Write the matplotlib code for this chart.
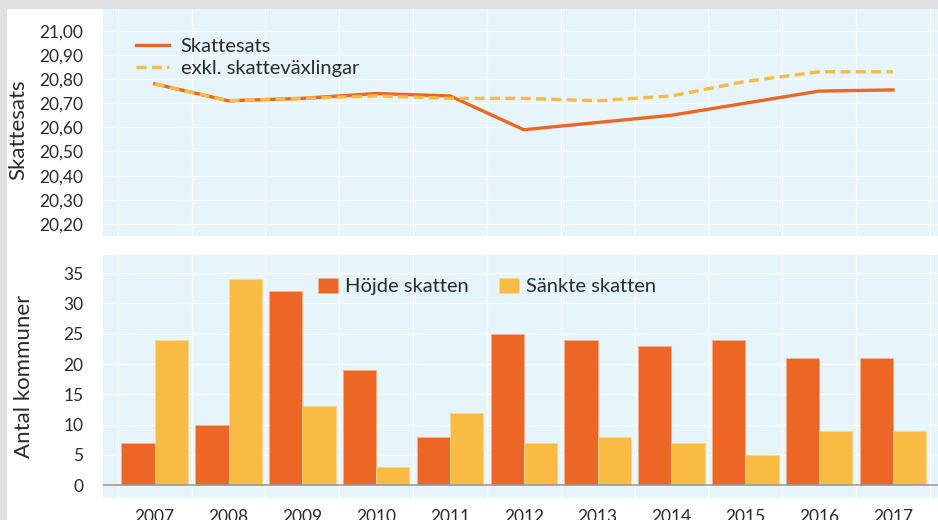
import matplotlib
matplotlib.use('Agg')
import matplotlib.pyplot as plt
from matplotlib.patches import Rectangle
from matplotlib.ticker import FixedLocator, FuncFormatter
import numpy as np

# ===========================
# data
# ===========================
YEARS = ["2007", "2008", "2009", "2010", "2011", "2012",
         "2013", "2014", "2015", "2016", "2017"]
SKATTESATS = [20.78, 20.71, 20.72, 20.74, 20.73, 20.59,
              20.62, 20.65, 20.70, 20.75, 20.755]
EXKL_VAXLING = [20.78, 20.71, 20.72, 20.73, 20.72, 20.72,
                20.71, 20.73, 20.79, 20.83, 20.83]
HOJDE = [7, 10, 32, 19, 8, 25, 24, 23, 24, 21, 21]
SANKTE = [24, 34, 13, 3, 12, 7, 8, 7, 5, 9, 9]

ORANGE = "#ec6726"
YELLOW = "#f9bb43"
BG = "#e6f4fc"
TXT = "#2b2b2b"

plt.rcParams['font.family'] = ['Lato', 'DejaVu Sans']

fig = plt.figure(figsize=(9.38, 5.2), dpi=100)
fig.patch.set_facecolor("#e1e1e1")
fig.patches.append(Rectangle((7 / 938, 0), 1, 1 - 9 / 520, transform=fig.transFigure,
                             facecolor="white", edgecolor="none", zorder=-10))

x = np.arange(len(YEARS))
XLIM = (-0.70, 10.61)


def style_axes(ax):
    ax.set_facecolor(BG)
    for s in ax.spines.values():
        s.set_visible(False)
    ax.set_xlim(*XLIM)
    ax.xaxis.set_minor_locator(FixedLocator(np.arange(-0.5, len(YEARS), 1)))
    ax.grid(True, which='minor', axis='x', color='white', linewidth=1)
    ax.grid(True, which='major', axis='y', color='white', linewidth=1)
    ax.set_axisbelow(True)
    ax.tick_params(axis='both', which='both', length=0, labelsize=12.5,
                   labelcolor=TXT)
    ax.tick_params(axis='y', pad=14)


# ===========================
# top: skattesats
# ===========================
ax1 = fig.add_axes([103 / 938, 1 - 236 / 520, 1 - 103 / 938, (236 - 9) / 520])
style_axes(ax1)
ax1.plot(x, SKATTESATS, color=ORANGE, linewidth=2.4, label="Skattesats")
ax1.plot(x, EXKL_VAXLING, color=YELLOW, linewidth=2.4, linestyle=(0, (3, 1.6)),
         label="exkl. skatteväxlingar")
ax1.set_ylim(20.15, 21.09)
ax1.set_yticks(np.arange(20.2, 21.001, 0.1))
ax1.yaxis.set_major_formatter(FuncFormatter(lambda v, p: f"{v:.2f}".replace(".", ",")))
ax1.set_xticks(x)
ax1.set_xticklabels([])
ax1.set_ylabel("Skattesats", fontsize=16, color=TXT)
ax1.yaxis.set_label_coords(-0.089, 0.47)
ax1.legend(loc='upper left', bbox_to_anchor=(0.028, 0.915), frameon=False,
           fontsize=14.5, handlelength=1.6, handletextpad=0.6,
           borderpad=0, labelspacing=0.2, labelcolor=TXT)

# ===========================
# bottom: antal kommuner
# ===========================
ax2 = fig.add_axes([103 / 938, 1 - 498 / 520, 1 - 103 / 938, (498 - 255) / 520])
style_axes(ax2)
w = 0.45
ax2.bar(x - w / 2, HOJDE, width=w, color=ORANGE, edgecolor="#f6b08f",
        linewidth=0.6, label="Höjde skatten", zorder=2)
ax2.bar(x + w / 2, SANKTE, width=w, color=YELLOW, edgecolor="#fbd78f",
        linewidth=0.6, label="Sänkte skatten", zorder=2)
ax2.axhline(0, color="#9a9a9a", linewidth=1.2, zorder=3)
ax2.set_ylim(-2.1, 38)
ax2.set_yticks(range(0, 36, 5))
ax2.set_xticks(x)
ax2.set_xticklabels(YEARS)
ax2.tick_params(axis='x', pad=8)
ax2.set_ylabel("Antal kommuner", fontsize=16, color=TXT)
ax2.yaxis.set_label_coords(-0.083, 0.5)
ax2.legend(loc='center left', bbox_to_anchor=(0.245, 0.87), ncol=2, frameon=False,
           fontsize=14.5, handlelength=1.0, handleheight=0.75, handletextpad=0.35,
           columnspacing=1.5, borderpad=0, labelcolor=TXT)

fig.savefig("out.png", dpi=100)
